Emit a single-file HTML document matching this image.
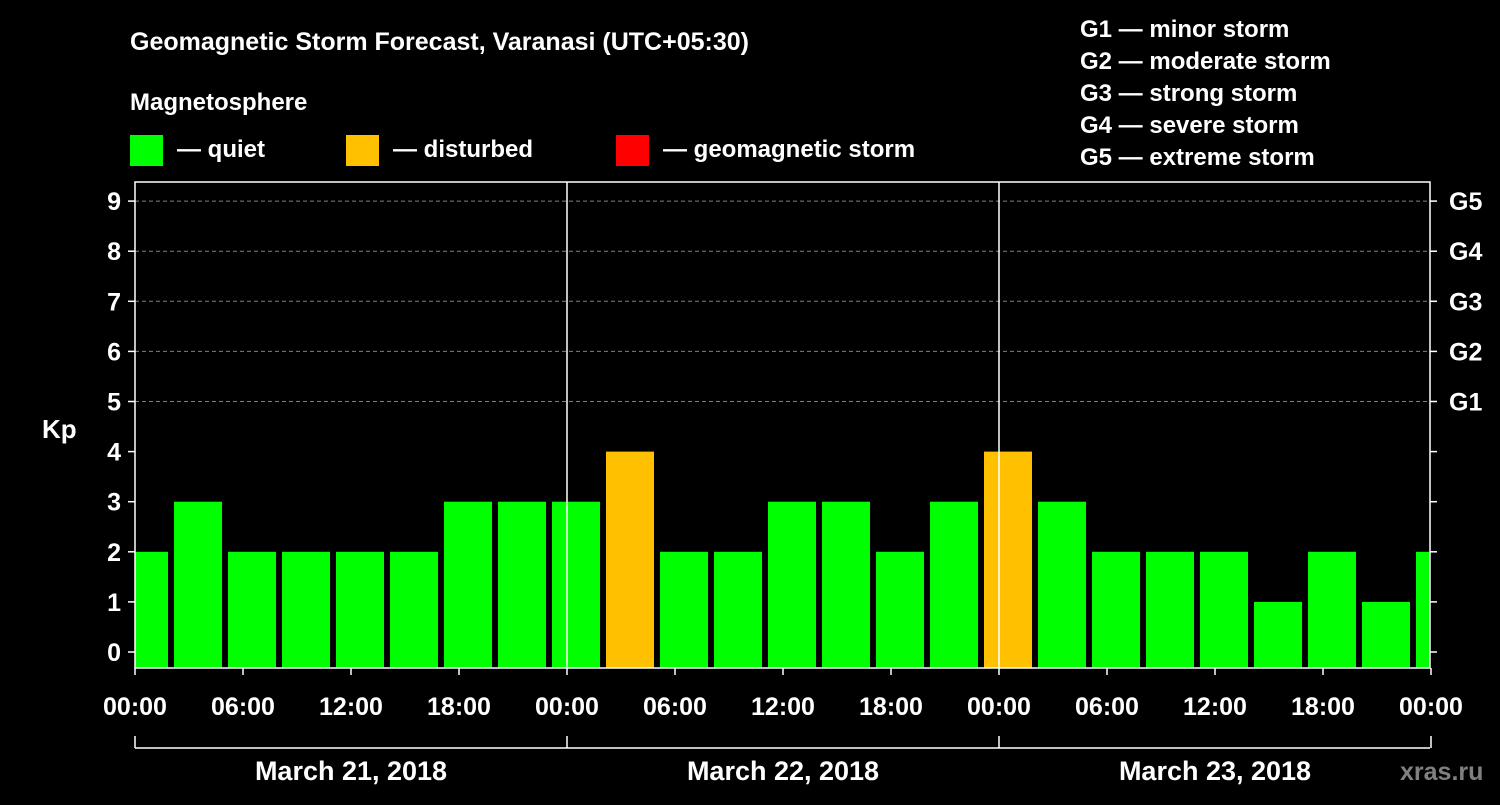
<!DOCTYPE html>
<html><head><meta charset="utf-8"><style>
body{margin:0;background:#000;}
svg text{font-family:"Liberation Sans",Arial,sans-serif;font-weight:bold;fill:#fff;}
</style></head><body>
<svg id="chart" width="1500" height="800" viewBox="0 0 1500 800" xmlns="http://www.w3.org/2000/svg">
<rect width="1500" height="800" fill="#000"/>
<text x="130" y="50" font-size="25">Geomagnetic Storm Forecast, Varanasi (UTC+05:30)</text>
<text x="130" y="110" font-size="24">Magnetosphere</text>
<g><rect x="130" y="135" width="33" height="31" fill="#00ff00"/><text x="177" y="157" font-size="24">— quiet</text></g>
<g><rect x="346" y="135" width="33" height="31" fill="#ffc000"/><text x="393" y="157" font-size="24">— disturbed</text></g>
<g><rect x="616" y="135" width="33" height="31" fill="#ff0000"/><text x="663" y="157" font-size="24">— geomagnetic storm</text></g>
<g font-size="24">
<text x="1080" y="37">G1 — minor storm</text>
<text x="1080" y="69">G2 — moderate storm</text>
<text x="1080" y="101">G3 — strong storm</text>
<text x="1080" y="133">G4 — severe storm</text>
<text x="1080" y="165">G5 — extreme storm</text>
</g>
<text x="42" y="438" font-size="26">Kp</text>
<g id="grid"></g><g id="bars"></g><g id="axes"></g>
<text x="1400" y="780" font-size="25" style="fill:#808080" font-weight="normal">xras.ru</text>
</svg>
<script>
const kpValues=[2,3,2,2,2,2,3,3,3,4,2,2,3,3,2,3,4,3,2,2,2,1,2,1,2];
const yTicks=[0,1,2,3,4,5,6,7,8,9];
const gLabels=["G1","G2","G3","G4","G5"];
const xTickLabels=["00:00","06:00","12:00","18:00","00:00","06:00","12:00","18:00","00:00","06:00","12:00","18:00","00:00"];
const dayLabels=["March 21, 2018","March 22, 2018","March 23, 2018"];
const NS="http://www.w3.org/2000/svg";
const L=135,R=1430,T=182,B=668;
const y=v=>652-v*50.1;
const xh=h=>L+h*18; // hours since start
function mk(tag,attrs,parent,text){const e=document.createElementNS(NS,tag);for(const k in attrs)e.setAttribute(k,attrs[k]);if(text!==undefined)e.textContent=text;document.getElementById(parent).appendChild(e);return e;}
// grid
for(let v=5;v<=9;v++){const g=mk('line',{x1:L,x2:R,y1:y(v),y2:y(v),stroke:'#808080','stroke-dasharray':'4,3','stroke-width':1},'grid');

}
// bars
kpValues.forEach((v,i)=>{
 let x0=xh(-0.833+3*i), x1=x0+48;
 x0=Math.max(x0,L); x1=Math.min(x1,R);
 const c=v>=5?'#ff0000':(v>=4?'#ffc000':'#00ff00');
 const r=mk('rect',{x:x0,y:y(v),width:x1-x0,height:B-y(v),fill:c},'bars');
 
 
});
// axes
const fr=mk('rect',{x:L,y:T,width:R-L,height:B-T,fill:'none',stroke:'#fff','stroke-width':1.5},'axes');


[1,2].forEach(d=>{const l=mk('line',{x1:xh(24*d),x2:xh(24*d),y1:T,y2:B,stroke:'#fff','stroke-width':1.5},'axes');

});
yTicks.forEach(v=>{
 mk('line',{x1:L-7,x2:L,y1:y(v),y2:y(v),stroke:'#fff','stroke-width':1.5},'axes');
 mk('line',{x1:R,x2:R+7,y1:y(v),y2:y(v),stroke:'#fff','stroke-width':1.5},'axes');
 const t=mk('text',{x:L-14,y:y(v)+9,'font-size':25,'text-anchor':'end'},'axes',String(v));
 
 
});
gLabels.forEach((g,i)=>{const t=mk('text',{x:1449,y:y(5+i)+9,'font-size':25},'axes',g);

});
xTickLabels.forEach((s,i)=>{
 mk('line',{x1:xh(6*i),x2:xh(6*i),y1:B,y2:B+7,stroke:'#fff','stroke-width':1.5},'axes');
 const t=mk('text',{x:xh(6*i),y:715,'font-size':25,'text-anchor':'middle'},'axes',s);
 
 
});
const br=mk('line',{x1:L,x2:R,y1:748,y2:748,stroke:'#fff','stroke-width':1.5},'axes');


for(let d=0;d<=3;d++)mk('line',{x1:xh(24*d),x2:xh(24*d),y1:736,y2:748,stroke:'#fff','stroke-width':1.5},'axes');
dayLabels.forEach((s,i)=>{const t=mk('text',{x:xh(24*i+12),y:780,'font-size':27,'text-anchor':'middle'},'axes',s);

});
</script>
</body></html>
